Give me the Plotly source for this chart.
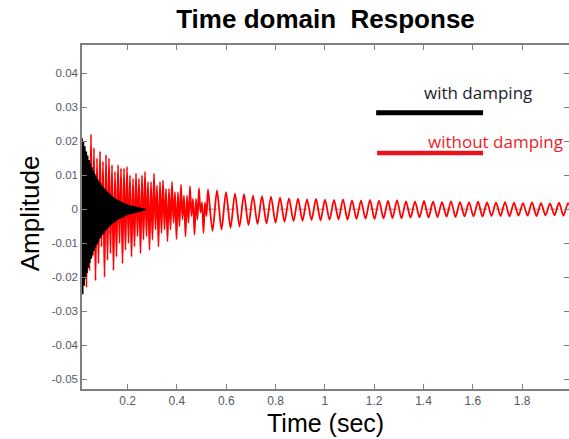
import numpy as np
import plotly.graph_objects as go

# ---------------- data ----------------
# "with damping": successive positive / negative peaks of a fast, quickly decaying oscillation
black_t0 = 0.015
black_half_step = 0.00289          # time between successive extrema
black_upper = [0.0205, 0.0200, 0.0185, 0.0170, 0.0158, 0.0145, 0.0134, 0.0123, 0.0113, 0.0104,
               0.0096, 0.0089, 0.0082, 0.0076, 0.0070, 0.0065, 0.0060, 0.0055, 0.0051, 0.0047,
               0.0043, 0.0040, 0.0036, 0.0033, 0.0030, 0.0028, 0.0025, 0.0023, 0.0021, 0.0019,
               0.0017, 0.0015, 0.0014, 0.0012, 0.0011, 0.0010, 0.0009, 0.0008, 0.0007, 0.0006,
               0.0005, 0.0004, 0.0003, 0.0002, 0.0001]
black_lower = [-0.0250, -0.0225, -0.0205, -0.0188, -0.0172, -0.0158, -0.0146, -0.0134, -0.0123, -0.0113,
               -0.0104, -0.0096, -0.0088, -0.0081, -0.0075, -0.0069, -0.0064, -0.0059, -0.0054, -0.0050,
               -0.0046, -0.0042, -0.0039, -0.0036, -0.0033, -0.0030, -0.0028, -0.0026, -0.0024, -0.0022,
               -0.0020, -0.0018, -0.0017, -0.0015, -0.0014, -0.0013, -0.0012, -0.0011, -0.0010, -0.0009,
               -0.0008, -0.0007, -0.0005, -0.0004, -0.0002]

# "without damping": positive / negative peak of each ~27 Hz cycle
red_t0 = 0.015
red_period = 0.0365
red_upper = [0.0210, 0.0220, 0.0170, 0.0150, 0.0130, 0.0125, 0.0105, 0.0110, 0.0105, 0.0085,
             0.0080, 0.0072, 0.0068, 0.0062, 0.0058, 0.0055, 0.0050, 0.0046, 0.0044, 0.0040,
             0.0038, 0.0037, 0.0034, 0.0032, 0.0031, 0.0029, 0.0030, 0.0028, 0.0027, 0.0029,
             0.0026, 0.0025, 0.0027, 0.0025, 0.0024, 0.0026, 0.0023, 0.0022, 0.0024, 0.0022,
             0.0021, 0.0023, 0.0021, 0.0020, 0.0022, 0.0020, 0.0019, 0.0021, 0.0019, 0.0018,
             0.0020, 0.0018, 0.0017, 0.0019, 0.0018]
red_lower = [-0.0230, -0.0210, -0.0200, -0.0180, -0.0160, -0.0140, -0.0130, -0.0120, -0.0110, -0.0095,
             -0.0088, -0.0080, -0.0075, -0.0070, -0.0064, -0.0060, -0.0055, -0.0051, -0.0047, -0.0044,
             -0.0042, -0.0040, -0.0037, -0.0035, -0.0034, -0.0032, -0.0033, -0.0031, -0.0030, -0.0031,
             -0.0029, -0.0028, -0.0029, -0.0027, -0.0026, -0.0027, -0.0025, -0.0024, -0.0025, -0.0023,
             -0.0022, -0.0023, -0.0021, -0.0021, -0.0022, -0.0020, -0.0020, -0.0021, -0.0019, -0.0019,
             -0.0020, -0.0018, -0.0018, -0.0019, -0.0018]
# faster ripple riding on the first cycles (four inner extrema per cycle)
red_inner = [[-0.012, 0.016, 0.014, -0.018],
             [-0.014, 0.018, 0.015, -0.016],
             [-0.011, 0.014, 0.016, -0.015],
             [-0.013, 0.013, 0.011, -0.014],
             [-0.010, 0.012, 0.012, -0.012],
             [-0.010, 0.010, 0.009, -0.011],
             [-0.008, 0.009, 0.010, -0.009],
             [-0.008, 0.008, 0.008, -0.009],
             [-0.006, 0.007, 0.008, -0.007],
             [-0.006, 0.006, 0.006, -0.006],
             [-0.004, 0.005, 0.005, -0.005],
             [-0.003, 0.004, 0.004, -0.004],
             [-0.002, 0.003, 0.003, -0.003],
             [-0.001, 0.002, 0.002, -0.002]]

x_tick_vals = [0.2, 0.4, 0.6, 0.8, 1.0, 1.2, 1.4, 1.6, 1.8]
x_tick_text = ["0.2", "0.4", "0.6", "0.8", "1", "1.2", "1.4", "1.6", "1.8"]
y_tick_vals = [0.04, 0.03, 0.02, 0.01, 0, -0.01, -0.02, -0.03, -0.04, -0.05]
y_tick_text = ["0.04", "0.03", "0.02", "0.01", "0", "-0.01", "-0.02", "-0.03", "-0.04", "-0.05"]

x_range = [0.015, 1.99]
y_range = [-0.0529, 0.0483]

# ---------------- assemble the line paths ----------------
bt, bv = [], []
for i, (a, b) in enumerate(zip(black_upper, black_lower)):
    bt += [black_t0 + (2 * i) * black_half_step, black_t0 + (2 * i + 1) * black_half_step]
    bv += [a, b]

rt, rv = [], []
for i, (u, l) in enumerate(zip(red_upper, red_lower)):
    c0 = red_t0 + i * red_period
    if i < len(red_inner):
        a, b, c, d = red_inner[i]
        rt += [c0 + red_period * f for f in (0, 1 / 6, 2 / 6, 3 / 6, 4 / 6, 5 / 6)]
        rv += [u, a, b, l, c, d]
    else:
        rt += [c0, c0 + red_period / 2]
        rv += [u, l]

AX = "#7f7f7f"
TICKC = "#555a66"
FONT = "Liberation Sans, Arial, sans-serif"
LEGFONT = "Open Sans, Noto Sans, sans-serif"

fig = go.Figure()
fig.add_trace(go.Scatter(x=rt, y=rv, mode="lines",
                         line=dict(color="#ff0000", width=1.8, shape="spline", smoothing=0.8),
                         showlegend=False, hoverinfo="skip"))
fig.add_trace(go.Scatter(x=bt, y=bv, mode="lines", line=dict(color="#000000", width=1.6),
                         showlegend=False, hoverinfo="skip"))
# invisible trace hosting the mirrored ticks on the right side
fig.add_trace(go.Scatter(x=[x_range[0]], y=[0], yaxis="y2", mode="markers",
                         marker=dict(opacity=0), showlegend=False, hoverinfo="skip"))

# dashed zero reference line
fig.add_shape(type="line", xref="x", yref="y", x0=x_range[0], x1=x_range[1], y0=0, y1=0,
              line=dict(color="#8c8c8c", width=1, dash="dash"), layer="below")

# legend-like marks
fig.add_shape(type="line", xref="paper", yref="paper", x0=0.604, x1=0.8235, y0=0.803, y1=0.803,
              line=dict(color="#000000", width=5))
fig.add_shape(type="line", xref="paper", yref="paper", x0=0.606, x1=0.8235, y0=0.686, y1=0.686,
              line=dict(color="#e8141c", width=4.5))
fig.add_annotation(text="with damping", xref="paper", yref="paper", x=0.698, y=0.862,
                   xanchor="left", yanchor="middle", showarrow=False,
                   font=dict(family=LEGFONT, size=17, color="#1c1c2c"))
fig.add_annotation(text="without damping", xref="paper", yref="paper", x=0.707, y=0.720,
                   xanchor="left", yanchor="middle", showarrow=False,
                   font=dict(family=LEGFONT, size=17, color="#ee1c25"))

# axis titles
fig.add_annotation(text="Time (sec)", xref="paper", yref="paper", x=0.5, y=-0.100,
                   xanchor="center", yanchor="middle", showarrow=False,
                   font=dict(family=FONT, size=25, color="#000000"))
fig.add_annotation(text="Amplitude", xref="paper", yref="paper", x=-0.108, y=0.512,
                   xanchor="center", yanchor="middle", showarrow=False, textangle=-90,
                   font=dict(family=FONT, size=26, color="#000000"))

fig.update_layout(
    width=569, height=439,
    margin=dict(l=82, r=0, t=45, b=50),
    paper_bgcolor="white", plot_bgcolor="white",
    title=dict(text="<b>Time domain\u00a0\u00a0Response</b>", x=0.5, xref="paper",
               y=1 - 19 / 439, yref="container", xanchor="center", yanchor="middle",
               font=dict(family=FONT, size=26, color="#000000")),
    xaxis=dict(range=x_range, tickvals=x_tick_vals, ticktext=x_tick_text,
               showgrid=False, zeroline=False, showline=True, linecolor=AX, linewidth=1.5,
               mirror="ticks", ticks="inside", ticklen=5, tickcolor=AX, tickwidth=1,
               tickfont=dict(family=FONT, size=12, color=TICKC)),
    yaxis=dict(range=y_range, tickvals=y_tick_vals, ticktext=y_tick_text,
               showgrid=False, zeroline=False, showline=True, linecolor=AX, linewidth=1.5,
               mirror=False, ticks="inside", ticklen=5, tickcolor=AX, tickwidth=1,
               tickfont=dict(family=FONT, size=11.5, color=TICKC)),
    yaxis2=dict(range=y_range, overlaying="y", side="right", tickvals=y_tick_vals,
                showticklabels=False, showgrid=False, zeroline=False, showline=False,
                ticks="inside", ticklen=5, tickcolor=AX, tickwidth=1),
)

fig.write_html("out.html")
